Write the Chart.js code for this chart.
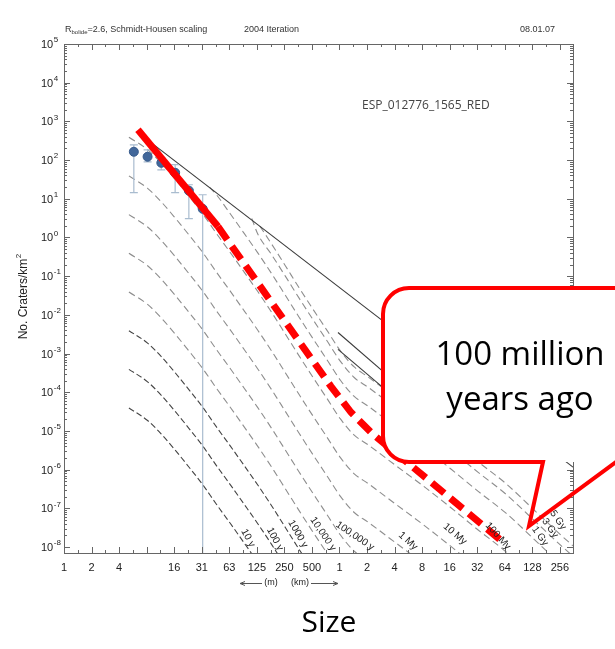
<!DOCTYPE html>
<html>
<head>
<meta charset="utf-8">
<script src="https://cdn.jsdelivr.net/npm/chart.js@4/dist/chart.umd.min.js"></script>
<style>
  html, body { margin: 0; padding: 0; background: #fff; }
  #wrap { position: relative; width: 615px; height: 649px; }
  canvas { display: block; }
</style>
</head>
<body>
<div id="wrap"><canvas id="chart" width="615" height="649"></canvas></div>
<script>
// Crater diameter axis (metres), labelled in m below 1 km and km above
const sizeTicks = [0.9765625, 1.953125, 3.90625, 7.8125, 15.625, 31.25, 62.5, 125, 250, 500,
  1000, 2000, 4000, 8000, 16000, 32000, 64000, 128000, 256000];
const sizeTickLabels = ['1', '2', '4', '', '16', '31', '63', '125', '250', '500',
  '1', '2', '4', '8', '16', '32', '64', '128', '256'];
// Density axis decades (craters per km^2)
const densityExponents = [5, 4, 3, 2, 1, 0, -1, -2, -3, -4, -5, -6, -7, -8];

// Counted craters: bin diameter (m), density, error-bar top and bottom
const craterDiam = [5.66, 8, 11.3, 16, 22.6, 32];
const craterDensity = [164, 122, 85, 47, 16.2, 5.5];
const craterErrHigh = [248, 184, 115, 76, 23, 12.7];
const craterErrLow = [14.4, 90, 56, 14.4, 3.06, 0];

// Isochrons: [diameter m, craters/km^2]
const iso10y = [[5,3.9e-5],[8,1.86e-5],[11.3,8.3e-6],[16,3.2e-6],[22.6,1.17e-6],[32,4.1e-7],[45,1.29e-7],[64,4.1e-8],[90.5,1.29e-8],[128,4.0e-9]];
const iso100y = [[5,3.9e-4],[8,1.86e-4],[11.3,8.3e-5],[16,3.2e-5],[22.6,1.17e-5],[32,4.1e-6],[45,1.29e-6],[64,4.1e-7],[90.5,1.29e-7],[128,4.0e-8],[181,1.17e-8],[256,3.2e-9]];
const iso1000y = [[5,3.9e-3],[8,1.86e-3],[11.3,8.3e-4],[16,3.2e-4],[22.6,1.17e-4],[32,4.1e-5],[45,1.29e-5],[64,4.1e-6],[90.5,1.29e-6],[128,4.0e-7],[181,1.17e-7],[256,3.2e-8],[362,8.7e-9],[512,2.45e-9]];
const iso1e4y = [[5,3.9e-2],[8,1.86e-2],[11.3,8.3e-3],[16,3.2e-3],[22.6,1.17e-3],[32,4.1e-4],[45,1.29e-4],[64,4.1e-5],[90.5,1.29e-5],[128,4.0e-6],[181,1.17e-6],[256,3.2e-7],[362,8.7e-8],[512,2.45e-8],[724,7.1e-9],[1024,2.0e-9]];
const iso1e5y = [[5,0.39],[8,0.186],[11.3,0.083],[16,0.032],[22.6,0.0117],[32,4.1e-3],[45,1.29e-3],[64,4.1e-4],[90.5,1.29e-4],[128,4.0e-5],[181,1.17e-5],[256,3.2e-6],[362,8.7e-7],[512,2.45e-7],[724,7.1e-8],[1024,2.04e-8],[1448,7.8e-9],[2048,4.4e-9]];
const iso1My = [[5,3.9],[8,1.86],[11.3,0.83],[16,0.32],[22.6,0.117],[32,0.041],[45,0.0129],[64,4.1e-3],[90.5,1.29e-3],[128,4.0e-4],[181,1.17e-4],[256,3.2e-5],[362,8.7e-6],[512,2.45e-6],[724,7.1e-7],[1024,2.04e-7],[1448,7.8e-8],[2048,4.4e-8],[4096,1.29e-8],[8192,3.8e-9]];
const iso10My = [[5,39],[8,18.6],[11.3,8.3],[16,3.2],[22.6,1.17],[32,0.41],[45,0.129],[64,0.041],[90.5,0.0129],[128,4.0e-3],[181,1.17e-3],[256,3.2e-4],[362,8.7e-5],[512,2.45e-5],[724,7.1e-6],[1024,2.04e-6],[1448,7.8e-7],[2048,4.4e-7],[4096,1.29e-7],[8192,3.8e-8],[16384,1.05e-8],[32768,2.75e-9]];
const iso100My = [[5,389],[8,186],[11.3,83],[16,32],[22.6,11.7],[32,4.1],[45,1.29],[64,0.41],[90.5,0.129],[128,0.040],[181,0.0117],[256,3.2e-3],[362,8.7e-4],[512,2.45e-4],[724,7.1e-5],[1024,2.04e-5],[1448,7.8e-6],[2048,4.4e-6],[4096,1.29e-6],[8192,3.8e-7],[16384,1.05e-7],[32768,2.75e-8],[65536,7.6e-9],[131072,1.66e-9]];
const iso1Gy = [[38,20],[45,12.9],[64,4.1],[90.5,1.29],[128,0.40],[181,0.117],[256,0.032],[362,8.7e-3],[512,2.45e-3],[724,7.1e-4],[1024,2.04e-4],[1448,7.8e-5],[2048,4.4e-5],[4096,1.29e-5],[8192,3.8e-6],[16384,1.05e-6],[32768,2.75e-7],[65536,7.6e-8],[131072,1.66e-8],[262144,3.5e-9]];
const iso3Gy = [[110,3.1],[128,1.23],[181,0.36],[256,0.10],[362,0.027],[512,7.6e-3],[724,2.2e-3],[1024,6.3e-4],[1448,2.4e-4],[2048,1.35e-4],[4096,4.0e-5],[8192,1.17e-5],[16384,3.2e-6],[32768,8.5e-7],[65536,2.34e-7],[131072,5.1e-8],[262144,1.1e-8],[356000,5.8e-9]];
const iso35Gy = [[135,1.95],[181,0.68],[256,0.186],[362,0.050],[512,0.0141],[724,4.1e-3],[1024,1.17e-3],[1448,4.5e-4],[2048,2.5e-4],[4096,7.4e-5],[8192,2.2e-5],[16384,6.0e-6],[32768,1.58e-6],[65536,4.4e-7],[131072,9.5e-8],[262144,2.04e-8],[356000,1.07e-8]];
// Saturation equilibrium
const saturation = [[9.4, 248], [356000, 1.16e-6]];
// Older large-crater branches (solid)
const oldBranchA = [[963, 3.5e-3], [3500, 2.5e-4]];
const oldBranchB = [[963, 1.28e-3], [3500, 9.6e-5]];
// Highlighted 100 My estimate
const highlight = [[6.28,605],[47,1.91],[806,1.42e-4],[1334,3.03e-5],[2320,8.2e-6],[4693,2.1e-6],[61100,1.35e-8]];

const isoLabels = ['10 y', '100 y', '1000 y', '10,000 y', '100,000 y', '1 My', '10 My', '100 My', '1 Gy', '3 Gy', '5 Gy'];
// label anchor [diameter, density] and rotation (deg)
const isoLabelAnchor = [[100,1.71e-8,62],[197,1.61e-8,62],[352,2.17e-8,60],[660,2.17e-8,56],[1478,1.92e-8,34],
  [5604,1.43e-8,42],[18290,2.17e-8,40],[53960,1.92e-8,48],[155200,1.92e-8,55],[199700,3.1e-8,55],[244100,4.98e-8,55]];

const toXY = arr => arr.map(p => ({ x: p[0], y: p[1] }));
const GRAY = '#8e8e8e', DARK = '#444';

function isoSet(arr, color, dash) {
  return { type: 'line', data: toXY(arr), borderColor: color, borderWidth: 1.1, borderDash: dash,
    pointRadius: 0, cubicInterpolationMode: 'monotone', clip: 0, order: 10 };
}
function solidSet(arr) {
  return { type: 'line', data: toXY(arr), borderColor: '#3a3a3a', borderWidth: 1.1, pointRadius: 0, clip: 0, order: 5 };
}

const datasets = [
  { type: 'line', data: toXY(highlight), borderColor: '#ff0000', borderWidth: 7, pointRadius: 0,
    borderCapStyle: 'butt', clip: 10, order: 0,
    segment: { borderDash: c => c.p0DataIndex === 0 ? [] : [16, 8] } },
  { type: 'scatter', data: craterDiam.map((d, i) => ({ x: d, y: craterDensity[i] })),
    pointRadius: 4.5, pointBackgroundColor: '#42679a', pointBorderColor: '#35598a', pointBorderWidth: 1, order: 1 },
  solidSet(saturation),
  solidSet(oldBranchA),
  solidSet(oldBranchB),
  isoSet(iso10y, DARK, [6, 3]),
  isoSet(iso100y, DARK, [6, 3]),
  isoSet(iso1000y, DARK, [6, 3]),
  isoSet(iso1e4y, GRAY, [7, 4]),
  isoSet(iso1e5y, GRAY, [7, 4]),
  isoSet(iso1My, GRAY, [7, 4]),
  isoSet(iso10My, GRAY, [7, 4]),
  isoSet(iso100My, GRAY, [7, 4]),
  isoSet(iso1Gy, GRAY, [7, 4]),
  isoSet(iso3Gy, GRAY, [7, 4]),
  isoSet(iso35Gy, GRAY, [7, 4])
];
const POINTS_INDEX = 1;
const AXIS_FONT = '"Liberation Sans", Arial, sans-serif';

function drawErrorBars(chart) {
  const c = chart.ctx, xs = chart.scales.x, ys = chart.scales.y, a = chart.chartArea;
  c.save();
  c.strokeStyle = '#a9bccf';
  c.lineWidth = 1.2;
  craterDiam.forEach((d, i) => {
    const x = xs.getPixelForValue(d);
    const yt = ys.getPixelForValue(craterErrHigh[i]);
    const yb = craterErrLow[i] > 0 ? ys.getPixelForValue(craterErrLow[i]) : a.bottom;
    c.beginPath();
    c.moveTo(x, yt); c.lineTo(x, yb);
    c.moveTo(x - 4, yt); c.lineTo(x + 4, yt);
    if (craterErrLow[i] > 0) { c.moveTo(x - 4, yb); c.lineTo(x + 4, yb); }
    c.stroke();
  });
  c.restore();
}

function drawAxes(chart) {
  const c = chart.ctx, xs = chart.scales.x, ys = chart.scales.y, a = chart.chartArea;
  c.save();
  c.strokeStyle = '#666';
  c.lineWidth = 1;
  c.strokeRect(Math.round(a.left) + 0.5, Math.round(a.top) + 0.5, Math.round(a.right - a.left), Math.round(a.bottom - a.top));
  c.beginPath();
  densityExponents.forEach(e => {
    const y = Math.round(ys.getPixelForValue(Math.pow(10, e))) + 0.5;
    c.moveTo(a.left, y); c.lineTo(a.left + 6, y);
    c.moveTo(a.right, y); c.lineTo(a.right - 6, y);
    for (let m = 2; m <= 9; m++) {
      const v = m * Math.pow(10, e);
      if (v > ys.max || v < ys.min) continue;
      const ym = Math.round(ys.getPixelForValue(v)) + 0.5;
      c.moveTo(a.left, ym); c.lineTo(a.left + 3, ym);
      c.moveTo(a.right, ym); c.lineTo(a.right - 3, ym);
    }
  });
  sizeTicks.forEach(v => {
    const x = Math.round(xs.getPixelForValue(v)) + 0.5;
    c.moveTo(x, a.bottom); c.lineTo(x, a.bottom - 6);
    c.moveTo(x, a.top); c.lineTo(x, a.top + 6);
    const mv = v * Math.SQRT2;
    if (mv < xs.max) {
      const xm = Math.round(xs.getPixelForValue(mv)) + 0.5;
      c.moveTo(xm, a.bottom); c.lineTo(xm, a.bottom - 3);
      c.moveTo(xm, a.top); c.lineTo(xm, a.top + 3);
    }
  });
  c.stroke();

  // density tick labels
  c.fillStyle = '#222';
  c.textAlign = 'left';
  c.textBaseline = 'middle';
  densityExponents.forEach(e => {
    const y = ys.getPixelForValue(Math.pow(10, e));
    c.font = '11px ' + AXIS_FONT;
    c.fillText('10', 41, y + 1);
    const w = c.measureText('10').width;
    c.font = '8px ' + AXIS_FONT;
    c.fillText(String(e), 41 + w + 0.5, y - 4);
  });
  // size tick labels
  c.font = '11px ' + AXIS_FONT;
  c.textAlign = 'center';
  c.textBaseline = 'middle';
  sizeTicks.forEach((v, i) => {
    c.fillText(sizeTickLabels[i], xs.getPixelForValue(v), 568);
  });
  // unit hint under the size axis
  c.font = '9px ' + AXIS_FONT;
  c.fillText('(m)', 271, 583);
  c.fillText('(km)', 300, 583);
  c.strokeStyle = '#555';
  c.beginPath();
  c.moveTo(240, 583.5); c.lineTo(262, 583.5);
  c.moveTo(240, 583.5); c.lineTo(245, 581.5); c.moveTo(240, 583.5); c.lineTo(245, 585.5);
  c.moveTo(311, 583.5); c.lineTo(338, 583.5);
  c.moveTo(338, 583.5); c.lineTo(333, 581.5); c.moveTo(338, 583.5); c.lineTo(333, 585.5);
  c.stroke();

  // vertical axis title
  c.save();
  c.translate(24, 296);
  c.rotate(-Math.PI / 2);
  c.font = '12px ' + AXIS_FONT;
  const t1 = 'No. Craters/km';
  const w1 = c.measureText(t1).width;
  c.textAlign = 'left';
  c.fillText(t1, -(w1 + 6) / 2, 0);
  c.font = '8px ' + AXIS_FONT;
  c.fillText('2', -(w1 + 6) / 2 + w1 + 0.5, -5);
  c.restore();

  // header line
  c.fillStyle = '#333';
  c.textAlign = 'left';
  c.textBaseline = 'alphabetic';
  c.font = '9px ' + AXIS_FONT;
  c.fillText('R', 65, 32);
  let hx = 65 + c.measureText('R').width;
  c.font = '6px ' + AXIS_FONT;
  c.fillText('bolide', hx, 34);
  hx += c.measureText('bolide').width;
  c.font = '9px ' + AXIS_FONT;
  c.fillText('=2.6, Schmidt-Housen scaling', hx, 32);
  c.fillText('2004 Iteration', 244, 32);
  c.fillText('08.01.07', 520, 32);
  c.restore();
}

function drawCurveLabels(chart) {
  const c = chart.ctx, xs = chart.scales.x, ys = chart.scales.y;
  c.save();
  c.fillStyle = '#222';
  c.font = '10px ' + AXIS_FONT;
  c.textAlign = 'center';
  c.textBaseline = 'middle';
  isoLabels.forEach((t, i) => {
    const [d, n, ang] = isoLabelAnchor[i];
    c.save();
    c.translate(xs.getPixelForValue(d), ys.getPixelForValue(n));
    c.rotate(ang * Math.PI / 180);
    c.fillText(t, 0, 0);
    c.restore();
  });
  c.restore();
}

function drawTexts(chart) {
  const c = chart.ctx;
  c.save();
  c.fillStyle = '#444';
  c.font = '12px "Open Sans", sans-serif';
  c.textAlign = 'left';
  c.textBaseline = 'middle';
  c.fillText('ESP_012776_1565_RED', 362, 106);
  c.fillStyle = '#000';
  c.font = '30px "Open Sans", sans-serif';
  c.textAlign = 'center';
  c.fillText('Size', 329, 623);
  c.restore();
}

function drawCallout(chart) {
  const c = chart.ctx;
  const L = 383, T = 288, B = 462, R = 660, r = 26;
  c.save();
  c.fillStyle = '#fff';
  c.beginPath();
  c.moveTo(L + r, T);
  c.lineTo(R, T); c.lineTo(R, B); c.lineTo(L + r, B);
  c.arcTo(L, B, L, B - r, r);
  c.lineTo(L, T + r);
  c.arcTo(L, T, L + r, T, r);
  c.closePath();
  c.fill();
  c.strokeStyle = '#ff0000';
  c.lineWidth = 4;
  c.lineJoin = 'miter';
  c.beginPath();
  c.moveTo(R, T);
  c.lineTo(L + r, T);
  c.arcTo(L, T, L, T + r, r);
  c.lineTo(L, B - r);
  c.arcTo(L, B, L + r, B, r);
  c.lineTo(543, B);
  c.lineTo(529, 526);
  c.lineTo(616, B);
  c.lineTo(R, B);
  c.stroke();
  c.fillStyle = '#000';
  c.font = '33px "Open Sans", sans-serif';
  c.textAlign = 'center';
  c.textBaseline = 'middle';
  c.fillText('100 million', 520, 356);
  c.fillText('years ago', 520, 401);
  c.restore();
}

const overlay = {
  id: 'overlay',
  beforeDatasetDraw(chart, args) { if (args.index === POINTS_INDEX) drawErrorBars(chart); },
  afterDatasetsDraw(chart) { drawAxes(chart); drawCurveLabels(chart); drawTexts(chart); },
  afterDraw(chart) { drawCallout(chart); }
};

new Chart(document.getElementById('chart'), {
  type: 'scatter',
  data: { datasets },
  options: {
    responsive: false,
    devicePixelRatio: 1,
    animation: false,
    layout: { padding: { left: 64, top: 44, right: 42, bottom: 96 } },
    plugins: { legend: { display: false }, tooltip: { enabled: false } },
    scales: {
      x: { type: 'logarithmic', min: 0.9765625, max: 356000, display: false },
      y: { type: 'logarithmic', min: 7.4e-9, max: 1e5, display: false }
    }
  },
  plugins: [overlay]
});
</script>
</body>
</html>
